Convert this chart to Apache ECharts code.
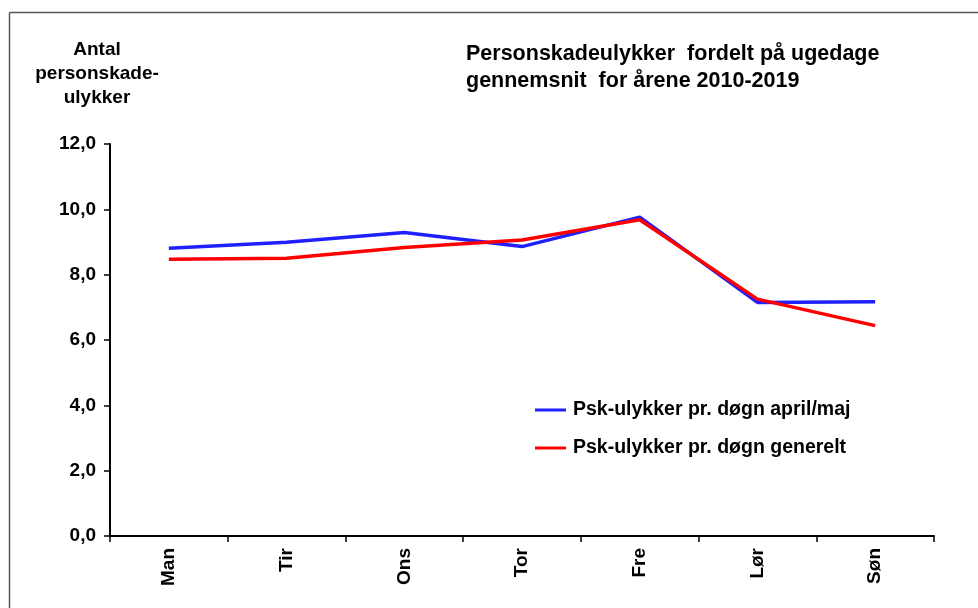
<!DOCTYPE html>
<html>
<head>
<meta charset="utf-8">
<script src="https://cdn.jsdelivr.net/npm/echarts@6/dist/echarts.min.js"></script>
<style>
  html, body { margin: 0; padding: 0; background: #fff; }
  #chart { width: 978px; height: 608px; }
</style>
</head>
<body>
<div id="chart"></div>
<script>
var days = ['Man', 'Tir', 'Ons', 'Tor', 'Fre', 'Lør', 'Søn'];
var aprilMaj = [8.81, 8.99, 9.29, 8.86, 9.76, 7.15, 7.17];
var generelt = [8.47, 8.50, 8.83, 9.06, 9.68, 7.25, 6.44];
var yTicks = [0, 2, 4, 6, 8, 10, 12];

var myChart = echarts.init(document.getElementById('chart'));
var font = 'Liberation Sans, Arial, sans-serif';

var option = {
    backgroundColor: '#fff',
    animation: false,
    textStyle: { fontFamily: font },
    title: {
        text: 'Personskadeulykker  fordelt på ugedage\ngennemsnit  for årene 2010-2019',
        left: 461,
        top: 36,
        textStyle: { fontSize: 21.5, fontWeight: 'bold', color: '#000', lineHeight: 27, fontFamily: font }
    },
    legend: {
        orient: 'vertical',
        left: 535,
        top: 400,
        padding: 0,
        itemWidth: 31,
        itemHeight: 3,
        itemGap: 18,
        icon: 'rect',
        textStyle: { fontSize: 19.5, fontWeight: 'bold', color: '#000', fontFamily: font, padding: [0, 0, 0, 2] },
        data: ['Psk-ulykker pr. døgn april/maj', 'Psk-ulykker pr. døgn generelt']
    },
    grid: { left: 110, right: 44, top: 144, bottom: 72 },
    xAxis: {
        type: 'category',
        data: days,
        boundaryGap: true,
        axisLine: { lineStyle: { color: '#000', width: 2 } },
        axisTick: { show: true, inside: false, length: 6, lineStyle: { color: '#000', width: 1.5 } },
        axisLabel: { rotate: 90, margin: 12, fontSize: 19, fontWeight: 'bold', color: '#000', fontFamily: font }
    },
    yAxis: {
        type: 'value',
        min: 0,
        max: 12,
        interval: 2,
        name: 'Antal\npersonskade-\nulykker',
        nameLocation: 'end',
        nameGap: 0,
        nameTextStyle: { fontSize: 19, fontWeight: 'bold', color: '#000', lineHeight: 24, align: 'center', padding: [0, 0, 25, -26], fontFamily: font },
        axisLine: { show: true, lineStyle: { color: '#000', width: 2 } },
        axisTick: { show: true, inside: false, length: 6, lineStyle: { color: '#000', width: 1.5 } },
        splitLine: { show: false },
        axisLabel: {
            margin: 14, fontSize: 19, fontWeight: 'bold', color: '#000', fontFamily: font,
            formatter: function (v) { return yTicks.indexOf(v) >= 0 ? v.toFixed(1).replace('.', ',') : ''; }
        }
    },
    series: [
        {
            name: 'Psk-ulykker pr. døgn april/maj',
            type: 'line',
            data: aprilMaj,
            symbol: 'none',
            color: '#1f1fff',
            lineStyle: { color: '#1f1fff', width: 3.5 }
        },
        {
            name: 'Psk-ulykker pr. døgn generelt',
            type: 'line',
            data: generelt,
            symbol: 'none',
            color: '#ff0000',
            lineStyle: { color: '#ff0000', width: 3.5 }
        }
    ],
    graphic: [
        { type: 'line', shape: { x1: 9.5, y1: 12.5, x2: 978, y2: 12.5 }, style: { stroke: '#555', lineWidth: 1.5 } },
        { type: 'line', shape: { x1: 9.5, y1: 12.5, x2: 9.5, y2: 608 }, style: { stroke: '#555', lineWidth: 1.5 } }
    ]
};

myChart.setOption(option);
</script>
</body>
</html>
